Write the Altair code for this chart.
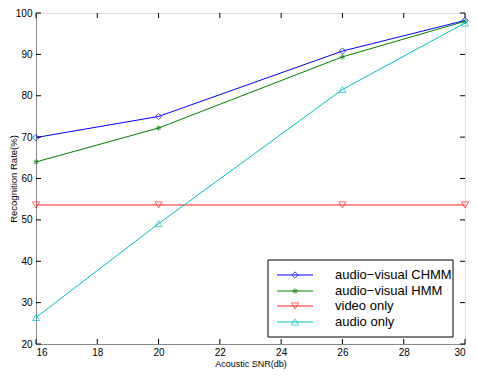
import altair as alt
import pandas as pd

snr = [16, 20, 26, 30]
chmm = [69.9, 75.0, 90.8, 98.2]
hmm = [64.0, 72.2, 89.4, 98.0]
video = [53.6, 53.6, 53.6, 53.6]
audio = [26.4, 49.1, 81.5, 97.6]

names = ["audio\u2212visual CHMM", "audio\u2212visual HMM", "video only", "audio only"]
colors = ["#0000FF", "#008000", "#FF2020", "#00BFBF"]
star = "M-1,0L1,0M0,-1L0,1M-0.7,-0.7L0.7,0.7M-0.7,0.7L0.7,-0.7"
shapes = ["diamond", star, "triangle-down", "triangle-up"]
sizes = [40, 30, 50, 50]
series = [chmm, hmm, video, audio]

x_ticks = [16, 18, 20, 22, 24, 26, 28, 30]
y_ticks = [20, 30, 40, 50, 60, 70, 80, 90, 100]

W, H = 429, 331
FONT = "Liberation Sans"

xs = alt.Scale(domain=[16, 30], nice=False)
ys = alt.Scale(domain=[20, 100], nice=False)

layers = []
for name, vals, col, shp, sz in zip(names, series, colors, shapes, sizes):
    df = pd.DataFrame({"snr": snr, "rate": vals, "series": name})
    base = alt.Chart(df).encode(
        x=alt.X("snr:Q", scale=xs,
                axis=alt.Axis(values=x_ticks, title="Acoustic SNR(db)", ticks=False,
                              labelPadding=3, grid=False, titleFontSize=9,
                              titleFontWeight="normal", titleY=22,
                              titleBaseline="alphabetic")),
        y=alt.Y("rate:Q", scale=ys,
                axis=alt.Axis(values=y_ticks, title="Recognition Rate(%)", ticks=False,
                              labelPadding=4, grid=False, titleFontWeight="normal",
                              titleFontSize=9.5,
                              titleX=-23, titleY=H / 2, titleAlign="center",
                              titleBaseline="middle", titleAngle=270)),
    )
    layers.append(base.mark_line(color=col, strokeWidth=1, clip=False))
    layers.append(base.mark_point(color=col, shape=shp, size=sz, filled=False,
                                  strokeWidth=1, clip=False))

# inward ticks
xt = pd.DataFrame({"t": x_ticks})
yt = pd.DataFrame({"t": y_ticks})
layers.append(alt.Chart(xt).mark_rule(color="black", strokeWidth=1).encode(
    x=alt.X("t:Q", scale=xs), y=alt.value(H), y2=alt.value(H - 5)))
layers.append(alt.Chart(xt).mark_rule(color="black", strokeWidth=1).encode(
    x=alt.X("t:Q", scale=xs), y=alt.value(0), y2=alt.value(5)))
layers.append(alt.Chart(yt).mark_rule(color="black", strokeWidth=1).encode(
    y=alt.Y("t:Q", scale=ys), x=alt.value(0), x2=alt.value(5)))
layers.append(alt.Chart(yt).mark_rule(color="black", strokeWidth=1).encode(
    y=alt.Y("t:Q", scale=ys), x=alt.value(W), x2=alt.value(W - 5)))

# legend box
one = pd.DataFrame({"k": [0]})
bx1, bx2 = W - 12 - 185, W - 12
by1, by2 = H - 7 - 77, H - 7
layers.append(alt.Chart(one).mark_rect(fill="white", stroke="black", strokeWidth=1).encode(
    x=alt.value(bx1), x2=alt.value(bx2), y=alt.value(by1), y2=alt.value(by2)))
row_off = [15, 31, 46, 62]
for name, col, shp, sz, ro in zip(names, colors, shapes, sizes, row_off):
    ry = by1 + ro
    layers.append(alt.Chart(one).mark_rule(color=col, strokeWidth=1).encode(
        x=alt.value(bx1 + 9), x2=alt.value(bx1 + 45), y=alt.value(ry)))
    layers.append(alt.Chart(one).mark_point(color=col, shape=shp, size=sz, filled=False,
                                            strokeWidth=1).encode(
        x=alt.value(bx1 + 27), y=alt.value(ry)))
    layers.append(alt.Chart(one).mark_text(text=name, align="left", baseline="middle",
                                           font=FONT, fontSize=13, color="black").encode(
        x=alt.value(bx1 + 67), y=alt.value(ry)))

chart = alt.layer(*layers).properties(
    width=W, height=H,
    autosize=alt.AutoSizeParams(type="none"),
    padding={"left": 28, "top": 5, "right": 4, "bottom": 25},
).configure_view(stroke="black", strokeWidth=1).configure_axis(
    domainColor="black", domainWidth=1, labelFont=FONT, titleFont=FONT,
    labelFontSize=10, titleFontSize=10, titleFontWeight="normal", labelColor="black",
    titleColor="black",
).configure(background="white")

chart.save("out.html", embed_options={"renderer": "svg", "actions": False})
